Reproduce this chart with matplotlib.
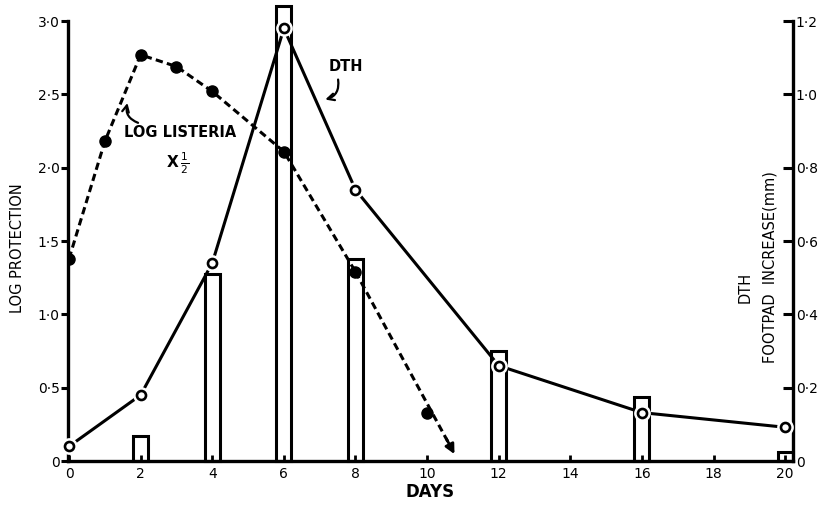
import matplotlib
matplotlib.use('Agg')
import matplotlib.pyplot as plt

# data
days = [0, 2, 4, 6, 8, 12, 16, 20]
dth_protection = [0.10, 0.45, 1.35, 2.95, 1.85, 0.65, 0.33, 0.23]

listeria_days = [0, 1, 2, 3, 4, 6, 8, 10]
log_listeria = [1.38, 2.18, 2.77, 2.69, 2.52, 2.11, 1.29, 0.33]
listeria_arrow_tip = (10.8, 0.03)

bar_days = [2, 4, 6, 8, 12, 16, 20]
footpad_mm = [0.068, 0.51, 1.24, 0.55, 0.30, 0.175, 0.025]

left_ticks = [0, 0.5, 1.0, 1.5, 2.0, 2.5, 3.0]
left_labels = ['0', '0·5', '1·0', '1·5', '2·0', '2·5', '3·0']
right_ticks = [0, 0.2, 0.4, 0.6, 0.8, 1.0, 1.2]
right_labels = ['0', '0·2', '0·4', '0·6', '0·8', '1·0', '1·2']
x_ticks = list(range(0, 21, 2))

plt.rcParams['font.family'] = ['DejaVu Sans']

fig = plt.figure(figsize=(8.23, 5.08), dpi=100)
ax = fig.add_axes([0.0826, 0.0925, 0.881, 0.866])
ax2 = ax.twinx()
ax.set_zorder(ax2.get_zorder() + 1)
ax.patch.set_visible(False)

# footpad bars on the right axis
ax2.bar(bar_days, footpad_mm, width=0.42, facecolor='white', edgecolor='black',
        linewidth=2.2, clip_on=False, zorder=1)

# DTH line with open circles (white halo gives the gaps)
ax.plot(days, dth_protection, color='black', lw=2.2, zorder=2, clip_on=False)
ax.plot(days, dth_protection, 'o', ms=11, mfc='white', mec='white', zorder=3, clip_on=False)
ax.plot(days, dth_protection, 'o', ms=6.5, mfc='white', mec='black', mew=1.9, zorder=4, clip_on=False)

# log listeria dashed line
ax.plot(listeria_days[:-1], log_listeria[:-1], color='black', lw=2.2,
        dashes=(2.4, 1.4), zorder=2)
ax.plot([listeria_days[-2], listeria_arrow_tip[0] - 0.15],
        [log_listeria[-2], listeria_arrow_tip[1] + 0.07],
        color='black', lw=2.2, dashes=(2.4, 1.4), zorder=2)
ax.annotate('', xy=listeria_arrow_tip,
            xytext=(listeria_arrow_tip[0] - 0.3, listeria_arrow_tip[1] + 0.14),
            arrowprops=dict(arrowstyle='-|>', color='black', lw=2, mutation_scale=14))
ax.plot(listeria_days, log_listeria, 'o', ms=8, color='black', zorder=5)

# annotations
ax.text(7.72, 2.69, 'DTH', ha='center', va='center', fontsize=10.5, fontweight='bold')
ax.annotate('', xy=(7.08, 2.46), xytext=(7.5, 2.62),
            arrowprops=dict(arrowstyle='->', color='black', lw=1.6,
                            connectionstyle='arc3,rad=-0.5', mutation_scale=12))
ax.text(3.1, 2.24, 'LOG LISTERIA', ha='center', va='center', fontsize=10.5, fontweight='bold')
ax.text(3.02, 2.03, r'X$\,\frac{1}{2}$', ha='center', va='center', fontsize=11, fontweight='bold')
ax.annotate('', xy=(1.65, 2.46), xytext=(2.0, 2.3),
            arrowprops=dict(arrowstyle='->', color='black', lw=1.6,
                            connectionstyle='arc3,rad=-0.5', mutation_scale=12))

# axes
ax.set_xlim(-0.03, 20.22)
ax.set_ylim(0, 3.0)
ax2.set_ylim(0, 1.2)

ax.set_xticks(x_ticks)
ax.set_xticklabels([str(t) for t in x_ticks], fontsize=10)
ax.set_yticks(left_ticks)
ax.set_yticklabels(left_labels, fontsize=10)
ax2.set_yticks(right_ticks)
ax2.set_yticklabels(right_labels, fontsize=10)

ax.tick_params(axis='x', direction='in', length=4, width=2, pad=4)
ax.tick_params(axis='y', direction='out', length=5, width=2.2, pad=1)
ax2.tick_params(axis='y', direction='in', length=7, width=2.2, pad=2)

for a in (ax, ax2):
    a.spines['top'].set_visible(False)
    for s in ('left', 'right', 'bottom'):
        a.spines[s].set_linewidth(2.4)
ax.spines['right'].set_visible(False)
ax2.spines['left'].set_visible(False)
ax2.spines['bottom'].set_visible(False)

ax.set_xlabel('DAYS', fontsize=12, fontweight='bold', labelpad=2)
ax.set_ylabel('LOG PROTECTION', fontsize=10.5)
ax.yaxis.set_label_coords(-0.059, 0.484)

ax.text(0.934, 0.395, 'DTH', transform=ax.transAxes, rotation=90,
        ha='center', va='center', fontsize=10.5)
ax.text(0.968, 0.441, 'FOOTPAD  INCREASE(mm)', transform=ax.transAxes, rotation=90,
        ha='center', va='center', fontsize=10.5)

fig.savefig('out.png', dpi=100)
